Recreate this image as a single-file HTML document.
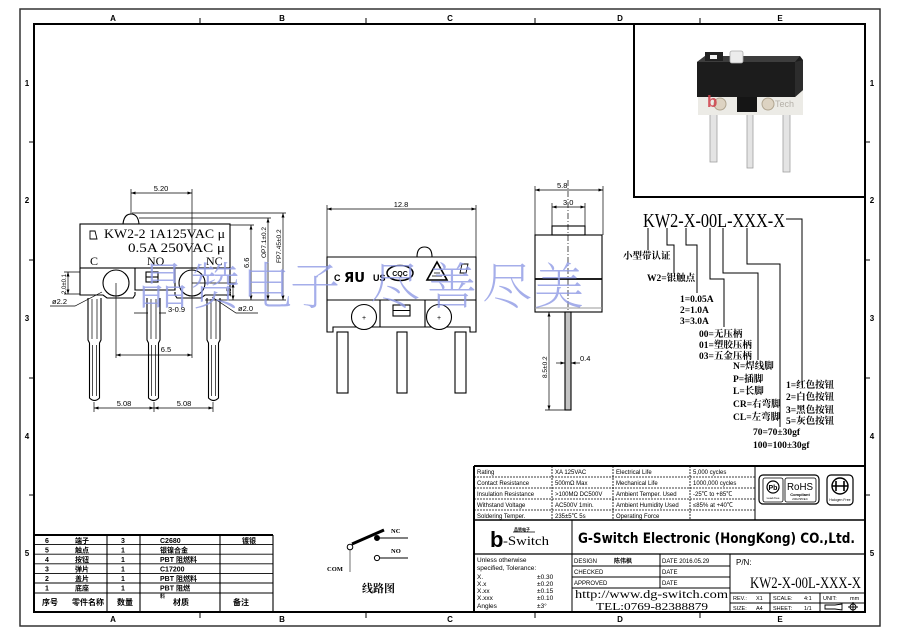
<!DOCTYPE html>
<html><head><meta charset="utf-8">
<style>
html,body{margin:0;padding:0;background:#fff;}
svg{display:block;}
text{font-family:"Liberation Sans","Noto Sans CJK SC",sans-serif;fill:#000;}
.sf,.sf text{font-family:"Liberation Serif","Noto Serif CJK SC",serif;}
.cj,.cj text{font-family:"Liberation Sans","Noto Sans CJK SC",sans-serif;font-weight:bold;}
.wm text{font-family:"Noto Serif CJK SC","Noto Sans CJK SC",serif;font-weight:200;fill:#8f9ae6;}
.d{font-size:7.5px;}
.sp{font-size:6px;}
</style></head><body>
<svg width="900" height="636" viewBox="0 0 900 636" xmlns="http://www.w3.org/2000/svg">
<defs>
<marker id="a" viewBox="0 0 6 4" refX="6" refY="2" markerUnits="userSpaceOnUse" markerWidth="5" markerHeight="3" orient="auto-start-reverse"><path d="M0,0 L6,2 L0,4 Z" fill="#000"/></marker>
</defs>
<rect width="900" height="636" fill="#fff"/>

<!-- Frames -->
<rect x="20" y="9" width="860" height="617" fill="none" stroke="#333" stroke-width="1.5"/>
<rect x="34" y="24" width="831" height="588" fill="none" stroke="#000" stroke-width="2"/>
<g font-size="8" font-weight="bold" text-anchor="middle">
<text x="113" y="21">A</text><text x="282" y="21">B</text><text x="450" y="21">C</text><text x="620" y="21">D</text><text x="780" y="21">E</text>
<text x="113" y="622">A</text><text x="282" y="622">B</text><text x="450" y="622">C</text><text x="620" y="622">D</text><text x="780" y="622">E</text>
<text x="27" y="86">1</text><text x="27" y="203">2</text><text x="27" y="321">3</text><text x="27" y="439">4</text><text x="27" y="556">5</text>
<text x="872" y="86">1</text><text x="872" y="203">2</text><text x="872" y="321">3</text><text x="872" y="439">4</text><text x="872" y="556">5</text>
</g>
<g stroke="#000" stroke-width="1">
<path d="M200,18V24M366,18V24M535,18V24M700,18V24M200,612V618M366,612V618M535,612V618M700,612V618"/>
<path d="M29,142H34M29,260H34M29,378H34M29,495H34M865,142H870M865,260H870M865,378H870M865,495H870"/>
</g>

<!-- Photo box -->
<rect x="634" y="24" width="231" height="173" fill="#fff" stroke="#000" stroke-width="2"/>
<g>
<rect x="710" y="112" width="7" height="50" fill="#e4e4e4" stroke="#a0a0a0" stroke-width="0.8"/>
<rect x="747" y="112" width="6" height="56" fill="#e4e4e4" stroke="#a0a0a0" stroke-width="0.8"/>
<rect x="783" y="112" width="7" height="60" fill="#e4e4e4" stroke="#a0a0a0" stroke-width="0.8"/>
<rect x="698" y="90" width="105" height="25" fill="#ecebe6"/>
<rect x="737" y="92" width="20" height="20" fill="#151515"/>
<circle cx="720" cy="104" r="6" fill="#ddd3c2" stroke="#b0a590"/>
<circle cx="768" cy="104" r="6" fill="#ddd3c2" stroke="#b0a590"/>
<path d="M697,62 L705,56 H800 L803,60 V90 L795,97 H697 Z" fill="#1c1c1c"/>
<path d="M795,62 L803,60 V90 L795,97 Z" fill="#2c2c2c"/>
<path d="M697,62 L705,56 H800 L795,62 Z" fill="#3d3d3d"/>
<rect x="705" y="52" width="18" height="9" fill="#222"/>
<rect x="710" y="55" width="7" height="4" fill="#f2f2f2"/>
<rect x="730" y="51" width="13" height="12" rx="2" fill="#ececec" stroke="#aaa" stroke-width="0.8"/>
<text x="707" y="107" font-size="17" font-weight="bold" style="fill:#d0404a;opacity:.85">b</text>
<text x="775" y="107" font-size="9" style="fill:#b5b0a8">Tech</text>
</g>

<!-- LEFT FRONT VIEW -->
<g fill="none" stroke="#000" stroke-width="1.1">
<path d="M123,224 Q124,214 131,214 Q138,214 139,224" fill="#fff"/>
<rect x="80" y="224" width="150" height="44"/>
<path d="M80,268 V295 H103 L107,298 H133 L135,295 V292 M175,292 V295 L177,298 H201 L205,295 H230 V268"/>
<path d="M80,268 H135 V290 H175 V268 H230"/>
<circle cx="116" cy="283" r="13" fill="#fff"/>
<circle cx="192" cy="283" r="13" fill="#fff"/>
<rect x="146" y="272" width="12" height="10"/>
<path d="M146,277 H158"/>
<path d="M90,231 H95 L97,239 H90 Z" stroke-width="0.9"/>
</g>
<g fill="#fff" stroke="#000" stroke-width="1.1">
<path d="M88,298 V340 L89.5,343 V398 Q94.5,403 99.5,398 V343 L101,340 V298"/>
<path d="M147,298 V340 L148.5,343 V398 Q153.5,403 158.5,398 V343 L160,340 V298"/>
<path d="M207,298 V340 L208.5,343 V398 Q213.5,403 218.5,398 V343 L220,340 V298"/>
</g>
<g stroke="#000" stroke-width="0.7">
<path d="M92,299V339M97,299V339M92.5,345V396M96.5,345V396"/>
<path d="M151,299V339M156,299V339M151.5,345V396M155.5,345V396"/>
<path d="M211,299V339M216,299V339M211.5,345V396M215.5,345V396"/>
</g>
<g stroke="#000" stroke-width="0.7" fill="none">
<path d="M131,189V214M192,189V358M116,283V358M94,402V412M154,402V412M213,402V412"/>
<line x1="131" y1="193" x2="192" y2="193" marker-start="url(#a)" marker-end="url(#a)"/>
<line x1="116" y1="355" x2="192" y2="355" marker-start="url(#a)" marker-end="url(#a)"/>
<line x1="94" y1="408" x2="154" y2="408" marker-start="url(#a)" marker-end="url(#a)"/>
<line x1="154" y1="408" x2="213" y2="408" marker-start="url(#a)" marker-end="url(#a)"/>
<path d="M134,313H148M159,313H166"/>
<path d="M132,213H286M139,218H271M230,225H254M205,300H286M192,283H236M64,272H80M64,294H80"/>
<line x1="251" y1="225" x2="251" y2="300" marker-start="url(#a)" marker-end="url(#a)"/>
<line x1="268" y1="218" x2="268" y2="300" marker-start="url(#a)" marker-end="url(#a)"/>
<line x1="283" y1="213" x2="283" y2="300" marker-start="url(#a)" marker-end="url(#a)"/>
<line x1="233" y1="283" x2="233" y2="300" marker-start="url(#a)" marker-end="url(#a)"/>
<line x1="68" y1="272" x2="68" y2="294" marker-start="url(#a)" marker-end="url(#a)"/>
<path d="M50,306H75L102,292"/>
<path d="M212,297L236,313H258"/>
</g>
<g class="d">
<text x="161" y="191" text-anchor="middle">5.20</text>
<text x="166" y="352" text-anchor="middle">6.5</text>
<text x="124" y="406" text-anchor="middle">5.08</text>
<text x="184" y="406" text-anchor="middle">5.08</text>
<text x="168" y="312">3-0.9</text>
<text x="52" y="304">ø2.2</text>
<text x="238" y="311">ø2.0</text>
<text transform="rotate(-90 249 268)" x="249" y="268">6.6</text>
<text transform="rotate(-90 266 258)" x="266" y="258" font-size="6.5">OP7.1±0.2</text>
<text transform="rotate(-90 281 263)" x="281" y="263" font-size="6.5">FP7.45±0.2</text>
<text transform="rotate(-90 231 297)" x="231" y="297" font-size="6.5">1.5</text>
<text transform="rotate(-90 66 294)" x="66" y="294" font-size="6">2.0±0.1</text>
</g>
<g class="sf" font-size="13">
<text x="104" y="238" textLength="121" lengthAdjust="spacingAndGlyphs">KW2-2 1A125VAC μ</text>
<text x="128" y="252" textLength="97" lengthAdjust="spacingAndGlyphs">0.5A 250VAC μ</text>
<text x="90" y="265" font-size="12">C</text>
<text x="147" y="265" font-size="12">NO</text>
<text x="206" y="265" font-size="12">NC</text>
</g>

<!-- MIDDLE VIEW -->
<g fill="none" stroke="#000" stroke-width="1.1">
<path d="M417,257 Q417,247 424.5,247 Q432,247 432,257" fill="#fff"/>
<path d="M327,257 H476 V332 H470 V327 H333 V332 H327 Z"/>
<path d="M327,300 H476 M380,300 V327 M425,300 V327"/>
<circle cx="364" cy="317" r="12.5" fill="#fff"/>
<circle cx="439" cy="317" r="12.5" fill="#fff"/>
<rect x="393" y="305" width="17" height="11"/>
<path d="M393,310.5 H410"/>
<rect x="337" y="332" width="11" height="61"/>
<rect x="397" y="332" width="10" height="61"/>
<rect x="455" y="332" width="11" height="61"/>
<ellipse cx="400" cy="273" rx="13" ry="7.5" stroke-width="1.5"/>
<path d="M437,262 L447,280 H427 Z" stroke-width="1.6"/>
<path d="M432,276 H442 M434,273 L440,273" stroke-width="0.8"/>
<path d="M462,264 H468 L466,273 H460 Z" stroke-width="0.9"/>
</g>
<g font-size="7" text-anchor="middle"><text x="364" y="320">+</text><text x="439" y="320">+</text></g>
<text x="334" y="281" font-size="9" font-weight="bold">C</text>
<text x="344" y="282" font-size="13" font-weight="bold" textLength="21" lengthAdjust="spacingAndGlyphs" style="font-family:'DejaVu Sans',sans-serif">ЯU</text>
<text x="373" y="281" font-size="9" font-weight="bold">US</text>
<text x="400" y="276" font-size="7" font-weight="bold" text-anchor="middle">CQC</text>
<g stroke="#000" stroke-width="0.7" fill="none">
<path d="M327,205V257M476,205V257"/>
<line x1="327" y1="209" x2="476" y2="209" marker-start="url(#a)" marker-end="url(#a)"/>
</g>
<text x="401" y="207" class="d" text-anchor="middle">12.8</text>

<!-- SIDE VIEW -->
<g fill="none" stroke="#000" stroke-width="1.1">
<rect x="535" y="235" width="67" height="77"/>
<path d="M535,279H602" stroke-width="1.8"/>
<path d="M535,308H602" stroke="#999"/>
<rect x="552" y="226" width="33" height="9"/>
<rect x="565" y="312" width="6" height="98" fill="#c4c4c4"/>
</g>
<g stroke="#000" stroke-width="0.7" fill="none">
<path d="M535,186V235M603,186V235M552,203V226M585,203V226M545,410H565M545,312H565"/>
<line x1="535" y1="190" x2="603" y2="190" marker-start="url(#a)" marker-end="url(#a)"/>
<line x1="552" y1="207" x2="585" y2="207" marker-start="url(#a)" marker-end="url(#a)"/>
<line x1="549" y1="312" x2="549" y2="410" marker-start="url(#a)" marker-end="url(#a)"/>
<path d="M568,180V312" stroke-dasharray="6,2,1,2"/>
<line x1="556" y1="363" x2="565" y2="363" marker-end="url(#a)"/>
<line x1="580" y1="363" x2="571" y2="363" marker-end="url(#a)"/>
</g>
<g class="d">
<text x="557" y="188">5.8</text>
<text x="563" y="205">3.0</text>
<text x="580" y="361">0.4</text>
<text transform="rotate(-90 547 378)" x="547" y="378" font-size="6.5">8.5±0.2</text>
</g>

<!-- PART NUMBER BREAKDOWN -->
<text x="643" y="227" class="sf" font-size="20" textLength="142" lengthAdjust="spacingAndGlyphs">KW2-X-00L-XXX-X</text>
<g stroke="#000" stroke-width="1" fill="none">
<path d="M648,228V250"/>
<path d="M667,228V245H674V273"/>
<path d="M686,228V245H697V293"/>
<path d="M710,228V279H724V327"/>
<path d="M723,228V273H758V360"/>
<path d="M747,228V264H780V427"/>
<path d="M786,219H802V385"/>
</g>
<g class="sf" font-size="9.5" font-weight="bold">
<text x="623" y="259">小型带认证</text>
<text x="647" y="281">W2=银触点</text>
<text x="680" y="302">1=0.05A</text>
<text x="680" y="313">2=1.0A</text>
<text x="680" y="324">3=3.0A</text>
<text x="699" y="337">00=无压柄</text>
<text x="699" y="348">01=塑胶压柄</text>
<text x="699" y="359">03=五金压柄</text>
<text x="733" y="369">N=焊线脚</text>
<text x="733" y="382">P=插脚</text>
<text x="733" y="394">L=长脚</text>
<text x="733" y="407">CR=右弯脚</text>
<text x="733" y="420">CL=左弯脚</text>
<text x="786" y="388">1=红色按钮</text>
<text x="786" y="400">2=白色按钮</text>
<text x="786" y="413">3=黑色按钮</text>
<text x="786" y="424">5=灰色按钮</text>
<text x="753" y="435">70=70±30gf</text>
<text x="753" y="448">100=100±30gf</text>
</g>

<!-- CIRCUIT -->
<g stroke="#000" fill="none">
<path d="M350,549V572" stroke="#888" stroke-width="1.2"/>
<path d="M352,544L384,530" stroke-width="3"/>
<circle cx="350" cy="547" r="2.8" fill="#fff" stroke-width="1"/>
<circle cx="377" cy="538" r="2.5" fill="#000"/>
<path d="M378,538H408" stroke-width="0.9"/>
<circle cx="377" cy="558" r="2.6" fill="#fff" stroke-width="1"/>
<path d="M380,558H408" stroke-width="0.9"/>
</g>
<g class="sf" font-size="6.5" font-weight="bold">
<text x="391" y="533">NC</text><text x="391" y="553">NO</text><text x="327" y="571">COM</text>
</g>
<text x="362" y="592" class="sf" font-size="11" font-weight="bold">线路图</text>

<!-- BOM TABLE -->
<g stroke="#000" fill="none">
<path d="M34,535H273" stroke-width="2"/>
<path d="M273,535V612M107,535V612M140,535V612M220,535V612" stroke-width="1.1"/>
<path d="M34,544.6H273M34,554.2H273M34,563.8H273M34,573.4H273M34,583H273M34,593H273" stroke-width="0.9"/>
</g>
<g class="cj" font-size="7">
<text x="45" y="543">6</text><text x="75" y="543">端子</text><text x="121" y="543">3</text><text x="160" y="543" font-weight="normal">C2680</text><text x="242" y="543">镀银</text>
<text x="45" y="552.5">5</text><text x="75" y="552.5">触点</text><text x="121" y="552.5">1</text><text x="160" y="552.5">银镍合金</text>
<text x="45" y="562">4</text><text x="75" y="562">按钮</text><text x="121" y="562">1</text><text x="160" y="562">PBT  阻燃料</text>
<text x="45" y="571.5">3</text><text x="75" y="571.5">弹片</text><text x="121" y="571.5">1</text><text x="160" y="571.5" font-weight="normal">C17200</text>
<text x="45" y="581">2</text><text x="75" y="581">盖片</text><text x="121" y="581">1</text><text x="160" y="581">PBT  阻燃料</text>
<text x="45" y="590.5">1</text><text x="75" y="590.5">底座</text><text x="121" y="590.5">1</text><text x="160" y="590.5">PBT  阻燃</text>
<text x="160" y="598" font-size="5">料</text>
<text x="42" y="605" font-size="8">序号</text><text x="72" y="605" font-size="8">零件名称</text><text x="117" y="605" font-size="8">数量</text><text x="173" y="605" font-size="8">材质</text><text x="233" y="605" font-size="8">备注</text>
</g>

<!-- TITLE BLOCK -->
<g stroke="#000" fill="none">
<path d="M474,466H865M474,466V612" stroke-width="2"/>
<path d="M474,520H865" stroke-width="1.6"/>
<path d="M474,554H865" stroke-width="1.2"/>
<path d="M755,466V520" stroke-width="1"/>
<path d="M474,477H755M474,488H755M474,499H755M474,510H755M552,466V520M613,466V520M690,466V520" stroke-width="0.8" stroke-dasharray="2,1"/>
<path d="M572,520V612M730,554V612M660,554V588M572,566H730M572,577H730M572,588H730" stroke-width="1"/>
<path d="M730,593H865M730,603H865M770,593V612M820,593V612" stroke-width="1"/>
</g>
<g class="sp">
<text x="477" y="474">Rating</text><text x="555" y="474">XA  125VAC</text><text x="616" y="474">Electrical Life</text><text x="693" y="474">5,000 cycles</text>
<text x="477" y="485">Contact Resistance</text><text x="555" y="485">500mΩ  Max</text><text x="616" y="485">Mechanical Life</text><text x="693" y="485">1000,000 cycles</text>
<text x="477" y="496">Insulation Resistance</text><text x="555" y="496">&gt;100MΩ DC500V</text><text x="616" y="496">Ambient Temper. Used</text><text x="693" y="496">-25℃ to +85℃</text>
<text x="477" y="507">Withstand Voltage</text><text x="555" y="507">AC500V  1min.</text><text x="616" y="507">Ambient Humidity Used</text><text x="693" y="507">≤85% at +40℃</text>
<text x="477" y="518">Soldering Temper.</text><text x="555" y="518">235±5℃ 5s</text><text x="616" y="518">Operating Force</text>
</g>
<!-- logos -->
<g fill="none" stroke="#000">
<rect x="759" y="475" width="60" height="29" rx="4" stroke-width="1.2"/>
<rect x="763" y="478" width="20" height="24" rx="2" stroke-width="0.8"/>
<circle cx="773" cy="487" r="6" stroke-width="1.2"/>
<rect x="785" y="478" width="31" height="24" rx="2" stroke-width="0.8"/>
<rect x="827" y="475" width="26" height="30" rx="4" stroke-width="1.2"/>
<circle cx="840" cy="486" r="8" stroke-width="1.4"/>
<path d="M836,481V491M844,481V491M836,486H844M832,486H848" stroke-width="1.6"/>
</g>
<text x="773" y="490" font-size="7" font-weight="bold" text-anchor="middle">Pb</text>
<text x="773" y="499" font-size="3" text-anchor="middle">Lead-free</text>
<text x="800" y="490" font-size="10" text-anchor="middle" textLength="26" lengthAdjust="spacingAndGlyphs">RoHS</text>
<text x="800" y="496" font-size="4" font-weight="bold" text-anchor="middle">Compliant</text>
<text x="800" y="500" font-size="3" text-anchor="middle">2002/95/EC</text>
<text x="840" y="501" font-size="3.5" text-anchor="middle">Halogen Free</text>

<text x="490" y="547" font-size="22" font-weight="bold">b</text>
<text x="503" y="545" class="sf" font-size="13" textLength="46" lengthAdjust="spacingAndGlyphs">-Switch</text>
<text x="514" y="531" font-size="4" font-weight="bold">品赞电子</text>
<path d="M513,532H535" stroke="#000" stroke-width="0.7"/>
<text x="578" y="543" font-size="14" font-weight="bold" textLength="277" lengthAdjust="spacingAndGlyphs" style="font-family:'DejaVu Sans','Liberation Sans',sans-serif">G-Switch Electronic (HongKong) CO.,Ltd.</text>

<g font-size="6.5">
<text x="477" y="562">Unless  otherwise</text>
<text x="477" y="570">specified,  Tolerance:</text>
<text x="477" y="579">X.</text><text x="537" y="579">±0.30</text>
<text x="477" y="586">X.x</text><text x="537" y="586">±0.20</text>
<text x="477" y="593">X.xx</text><text x="537" y="593">±0.15</text>
<text x="477" y="600">X.xxx</text><text x="537" y="600">±0.10</text>
<text x="477" y="608">Angles</text><text x="537" y="608">±3°</text>
</g>
<g font-size="6">
<text x="574" y="563">DESIGN</text><text x="614" y="563" class="cj" font-size="6">陈伟枫</text>
<text x="574" y="574">CHECKED</text>
<text x="574" y="585">APPROVED</text>
<text x="662" y="563">DATE   2016.05.29</text>
<text x="662" y="574">DATE</text>
<text x="662" y="585">DATE</text>
</g>
<text x="575" y="598" class="sf" font-size="12" textLength="153" lengthAdjust="spacingAndGlyphs">http://www.dg-switch.com</text>
<text x="596" y="610" class="sf" font-size="11" textLength="112" lengthAdjust="spacingAndGlyphs">TEL:0769-82388879</text>
<text x="736" y="565" font-size="8">P/N:</text>
<text x="750" y="588" class="sf" font-size="16" textLength="111" lengthAdjust="spacingAndGlyphs">KW2-X-00L-XXX-X</text>
<g font-size="5.5">
<text x="733" y="600">REV.:</text><text x="756" y="600">X1</text>
<text x="773" y="600">SCALE:</text><text x="804" y="600">4:1</text>
<text x="823" y="600">UNIT:</text><text x="850" y="600">mm</text>
<text x="733" y="610">SIZE:</text><text x="756" y="610">A4</text>
<text x="773" y="610">SHEET:</text><text x="804" y="610">1/1</text>
</g>
<g stroke="#000" fill="none" stroke-width="0.9">
<path d="M825,605H835L842,604V610L835,609H825Z"/>
<circle cx="853" cy="607" r="3"/>
<path d="M848,607H858M853,602V612"/>
</g>

<!-- WATERMARK -->
<g class="wm" font-size="50" style="opacity:.8">
<text x="138" y="304">晶</text>
<text x="190" y="304">赞</text>
<text x="242" y="304">电</text>
<text x="290" y="304">子</text>
<text x="370" y="304">尽</text>
<text x="427" y="304">善</text>
<text x="482" y="304">尽</text>
<text x="534" y="304">美</text>
</g>
</svg>
</body></html>
